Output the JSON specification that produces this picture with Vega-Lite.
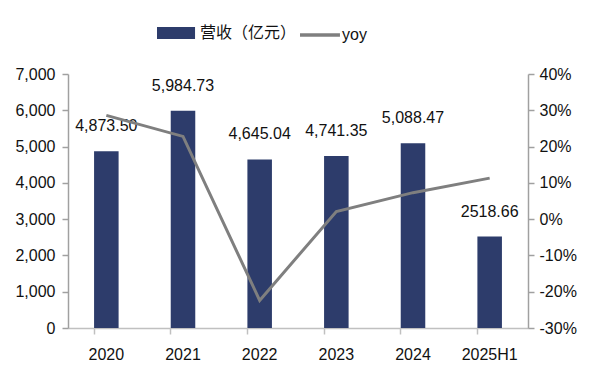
{
  "$schema": "https://vega.github.io/schema/vega-lite/v6.json",
  "width": 460,
  "height": 254,
  "autosize": "none",
  "padding": {"left": 68, "top": 74, "right": 72, "bottom": 58},
  "background": "white",
  "config": {
    "view": {"stroke": null},
    "font": "Liberation Sans",
    "axis": {"labelFont": "Liberation Sans", "labelFontSize": 16, "labelColor": "#111111", "domainColor": "#a0a0a0", "tickColor": "#a0a0a0", "domainWidth": 1.5, "tickWidth": 1.5, "grid": false, "title": null},
    "legend": {"labelFont": "Noto Sans CJK SC", "labelFontSize": 16, "labelColor": "#111111", "padding": 0}
  },
  "data": {
    "values": [
      {"year": "2020", "revenue": 4873.50, "yoy": 28.6, "label": "4,873.50"},
      {"year": "2021", "revenue": 5984.73, "yoy": 22.8, "label": "5,984.73"},
      {"year": "2022", "revenue": 4645.04, "yoy": -22.4, "label": "4,645.04"},
      {"year": "2023", "revenue": 4741.35, "yoy": 2.1, "label": "4,741.35"},
      {"year": "2024", "revenue": 5088.47, "yoy": 7.3, "label": "5,088.47"},
      {"year": "2025H1", "revenue": 2518.66, "yoy": 11.3, "label": "2518.66"}
    ]
  },
  "encoding": {
    "x": {"field": "year", "type": "nominal", "sort": null,
      "scale": {"paddingInner": 0.68, "paddingOuter": 0.34},
      "axis": {"labelAngle": 0, "bandPosition": 0, "tickSize": 6, "labelPadding": 12, "domainColor": "#c0c0c0", "tickColor": "#c0c0c0"}}
  },
  "layer": [
    {
      "mark": {"type": "bar"},
      "encoding": {
        "y": {"field": "revenue", "type": "quantitative",
          "scale": {"domain": [0, 7000], "nice": false},
          "axis": {"values": [0,1000,2000,3000,4000,5000,6000,7000], "format": ",d", "tickSize": 6, "labelPadding": 7, "orient": "left"}},
        "fill": {"datum": "营收（亿元）", "type": "nominal",
          "scale": {"range": ["#2d3c6b"]},
          "legend": {"title": null, "orient": "none", "legendX": 89, "legendY": -53,
            "symbolType": "M-1,-0.5H2.17V0.5H-1Z", "symbolSize": 576, "symbolStrokeWidth": 0, "labelOffset": 19}}
      }
    },
    {
      "mark": {"type": "text", "fontSize": 16, "font": "Liberation Sans", "color": "#111111", "baseline": "middle", "dy": -25},
      "encoding": {
        "y": {"field": "revenue", "type": "quantitative", "scale": {"domain": [0, 7000], "nice": false}, "axis": null},
        "text": {"field": "label"}
      }
    },
    {
      "mark": {"type": "line", "strokeWidth": 3},
      "encoding": {
        "y": {"field": "yoy", "type": "quantitative",
          "scale": {"domain": [-30, 40], "nice": false},
          "axis": {"orient": "right", "values": [-30,-20,-10,0,10,20,30,40], "labelExpr": "datum.value + '%'", "tickSize": 6, "labelPadding": 5}},
        "stroke": {"datum": "yoy", "type": "nominal",
          "scale": {"range": ["#7f7f7f"]},
          "legend": {"title": null, "orient": "none", "legendX": 230, "legendY": -53,
            "symbolType": "M-1,0H2.33", "symbolSize": 576, "symbolStrokeWidth": 3.5, "labelOffset": 16, "labelFont": "Liberation Sans"}}
      }
    }
  ],
  "resolve": {"scale": {"y": "independent"}}
}
